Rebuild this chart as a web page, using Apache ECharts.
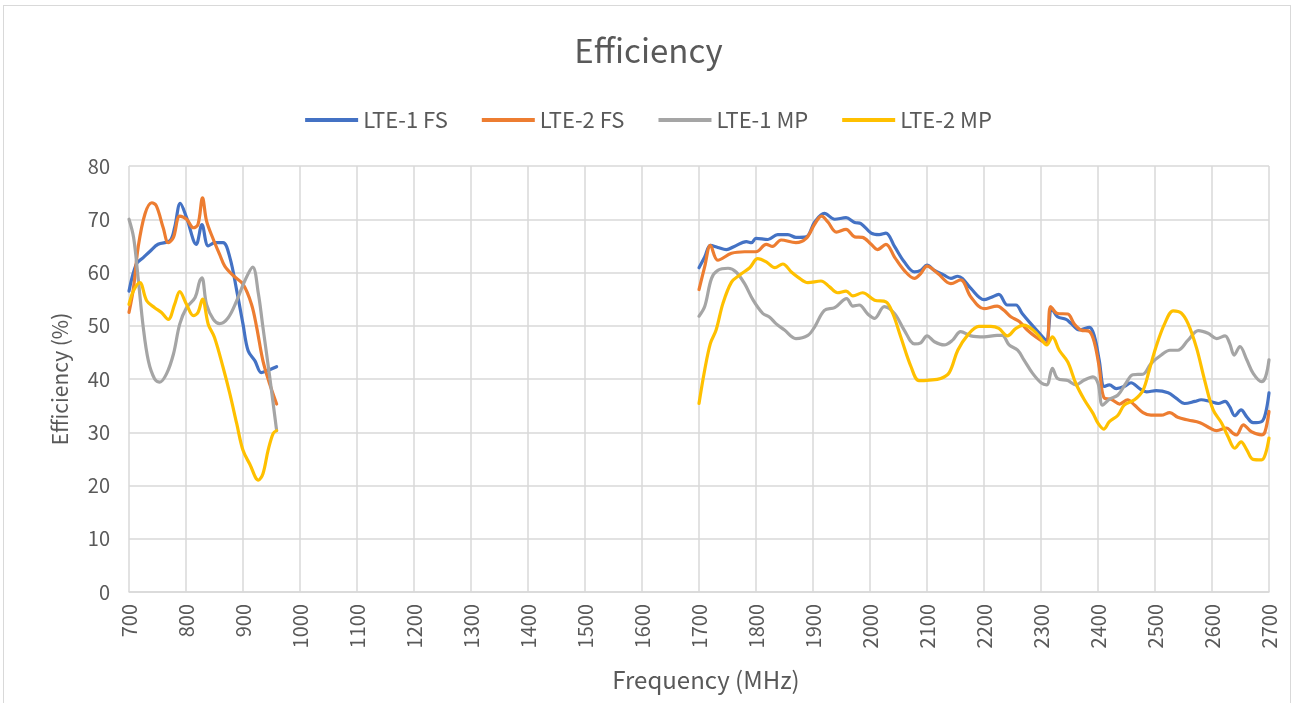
<!DOCTYPE html>
<html><head><meta charset="utf-8">
<script src="https://cdn.jsdelivr.net/npm/echarts@6/dist/echarts.min.js"></script>
<style>
html,body{margin:0;padding:0;background:#fff;}
#frame{position:absolute;left:3px;top:5px;width:1288px;height:710px;border:1px solid #d9d9d9;box-sizing:border-box;}
#c{position:absolute;left:0;top:0;width:1297px;height:703px;}
</style></head>
<body><div id="frame"></div><div id="c"></div>
<script>
const seriesNames = ['LTE-1 FS','LTE-2 FS','LTE-1 MP','LTE-2 MP'];
const seriesColors = ['#4472C4','#ED7D31','#A5A5A5','#FFC000'];

const lte1FS = [[700,56.5],[713,61.6],[725,62.8],[737,64],[751,65.3],[772,66],[780,68.4],[790,73],[801,70.3],[818,65.3],[828,69],[839,65],[851,65.6],[865,65.6],[877,62.8],[889,56.6],[900,50.3],[909,45.3],[921,43.4],[932,41.2],[941,41.5],[959,42.3],
 null,
 [1700,60.9],[1710,62.9],[1720,65.1],[1733,64.7],[1748,64.3],[1762,64.9],[1783,65.8],[1792,65.6],[1800,66.4],[1821,66.2],[1838,67.1],[1856,67.1],[1870,66.6],[1888,66.7],[1903,69.5],[1920,71.1],[1938,70],[1958,70.3],[1973,69.4],[1984,69.2],[2002,67.4],[2016,67.1],[2028,67.4],[2043,64.9],[2060,62],[2078,60.1],[2089,60.4],[2100,61.4],[2113,60.4],[2130,59.5],[2142,58.9],[2154,59.3],[2162,58.9],[2177,57],[2200,54.9],[2212,55.3],[2226,55.9],[2241,53.9],[2256,53.9],[2267,52.3],[2282,50.4],[2297,48.6],[2309,47.3],[2319,53.2],[2329,51.7],[2344,51.2],[2353,50.4],[2367,49.2],[2385,49.7],[2394,47.9],[2402,43.6],[2411,38.6],[2420,38.9],[2432,38.2],[2446,38.6],[2458,39.3],[2473,38.2],[2485,37.6],[2502,37.8],[2523,37.4],[2537,36.4],[2552,35.4],[2570,35.8],[2581,36.1],[2596,35.8],[2611,35.4],[2623,35.8],[2631,34.8],[2640,33.1],[2651,34.2],[2661,32.9],[2672,31.8],[2687,32],[2694,33.6],[2700,37.4]];

const lte2FS = [[700,52.5],[708,57.2],[716,64.7],[728,71],[740,73.1],[748,72.5],[760,68.4],[769,65.6],[778,66.6],[789,70.6],[801,70],[813,68.4],[821,69],[829,74],[836,69.7],[848,66.2],[859,63.4],[868,61.2],[883,59.4],[900,57.8],[915,54],[924,49.7],[935,43.4],[947,39],[959,35.3],
 null,
 [1700,56.8],[1710,61.1],[1720,65.1],[1733,62.3],[1757,63.6],[1780,63.9],[1800,63.9],[1818,65.3],[1829,64.9],[1844,66.1],[1870,65.6],[1888,66.4],[1903,69.1],[1915,70.6],[1926,69.5],[1941,67.6],[1958,68.1],[1973,66.7],[1987,66.6],[2002,65.3],[2013,64.3],[2028,65.3],[2043,62.9],[2060,60.4],[2078,58.9],[2089,59.8],[2100,61.2],[2119,59.8],[2142,57.9],[2159,58.6],[2177,55.4],[2200,53.2],[2223,53.7],[2235,52.9],[2247,51.7],[2262,50.8],[2276,49.2],[2291,47.9],[2309,46.7],[2317,53.6],[2329,52.3],[2347,52.2],[2358,50.4],[2370,49.2],[2385,48.9],[2394,46.7],[2402,42.3],[2411,36.4],[2423,36.2],[2438,35.3],[2452,36.1],[2464,35.1],[2479,33.7],[2493,33.2],[2511,33.2],[2526,33.7],[2540,32.8],[2558,32.3],[2579,31.8],[2596,30.8],[2608,30.3],[2625,30.8],[2637,29.8],[2643,29.5],[2655,31.4],[2669,30.1],[2687,29.5],[2693,30.1],[2700,33.9]];

const lte1MP = [[700,70],[708,66.6],[716,59],[725,49.7],[734,43.4],[745,40],[754,39.4],[766,41],[778,44.7],[789,50.3],[801,53.4],[816,55.3],[824,58.4],[828,59],[836,54],[848,51.2],[859,50.4],[874,51.5],[889,54.7],[903,58.4],[917,61],[927,56],[935,49.7],[947,40.3],[959,30.3],
 null,
 [1700,51.8],[1710,53.6],[1722,58.9],[1733,60.4],[1751,60.8],[1765,60.1],[1780,57.9],[1795,54.8],[1812,52.3],[1824,51.6],[1835,50.4],[1850,49.2],[1870,47.6],[1891,48.2],[1903,49.8],[1920,52.9],[1938,53.4],[1959,55.1],[1970,53.7],[1981,53.9],[1996,52.2],[2008,51.4],[2025,53.6],[2043,52.3],[2060,49.2],[2078,46.6],[2089,46.8],[2100,48.1],[2113,47],[2130,46.4],[2145,47.3],[2159,48.9],[2177,48.1],[2200,47.9],[2223,48.2],[2232,48.2],[2244,46.4],[2259,45.4],[2270,43.6],[2285,41.1],[2300,39.3],[2310,38.9],[2320,42],[2329,40.1],[2347,39.7],[2361,38.9],[2376,39.8],[2391,40.4],[2400,39.2],[2408,35.1],[2420,36.2],[2435,37],[2449,39.2],[2461,40.8],[2479,40.9],[2493,42.9],[2511,44.5],[2526,45.4],[2540,45.4],[2558,47.3],[2576,49.1],[2593,48.6],[2608,47.6],[2623,48.1],[2631,46.7],[2639,44.5],[2649,46.1],[2661,43.6],[2672,41.1],[2687,39.5],[2694,40.4],[2700,43.6]];

const lte2MP = [[700,54],[708,56.6],[719,58.1],[731,54.7],[745,53.4],[757,52.5],[769,51.2],[780,54],[789,56.4],[801,54],[813,51.9],[821,52.5],[829,55],[839,50.3],[850,47.8],[865,42.2],[877,37.2],[889,31.6],[900,26.6],[912,24],[927,21],[935,22.2],[944,26.6],[953,29.8],[959,30.3],
 null,
 [1700,35.4],[1710,41.7],[1720,46.7],[1730,49.2],[1742,54.2],[1757,58.2],[1771,59.5],[1789,60.9],[1803,62.6],[1818,62],[1833,60.9],[1847,61.6],[1862,60.1],[1874,59.1],[1891,58.1],[1914,58.4],[1929,57.3],[1943,56.2],[1958,56.5],[1970,55.6],[1987,56.2],[2008,54.8],[2028,54.5],[2040,52.3],[2054,47.9],[2072,42.3],[2086,39.7],[2104,39.8],[2124,40.1],[2139,41.2],[2154,45.4],[2171,48.2],[2191,49.9],[2212,49.9],[2226,49.5],[2241,48.1],[2256,49.5],[2270,50.1],[2285,49.3],[2300,47.6],[2310,46.4],[2320,47.9],[2332,45.4],[2347,43.2],[2361,39.2],[2376,36.1],[2391,33.6],[2400,31.7],[2410,30.6],[2420,32],[2435,33.2],[2446,35.1],[2464,36.1],[2479,37.9],[2490,41.7],[2502,46.1],[2517,50.4],[2532,52.8],[2546,52.4],[2558,50.4],[2573,45.8],[2587,39.8],[2602,34.2],[2617,31.7],[2628,29.2],[2640,27],[2651,28.2],[2661,26.7],[2672,24.9],[2687,24.8],[2694,26],[2700,28.9]];

const allData = [lte1FS, lte2FS, lte1MP, lte2MP];
const FONT = '"Noto Sans CJK SC", "Noto Sans", sans-serif';
const TXT = '#595959';

const chart = echarts.init(document.getElementById('c'));
chart.setOption({
  animation: false,
  textStyle: {fontFamily: FONT},
  title: {text: 'Efficiency', left: 'center', top: 29,
    textStyle: {fontFamily: FONT, fontSize: 33, fontWeight: 'normal', color: TXT}},
  legend: {top: 104, left: 'center', itemGap: 34, itemWidth: 53, itemHeight: 4, icon: 'rect',
    textStyle: {fontFamily: FONT, fontSize: 22, color: TXT},
    data: seriesNames},
  grid: {left: 129, right: 28, top: 166, bottom: 111},
  xAxis: {type: 'value', min: 700, max: 2700, interval: 100,
    name: 'Frequency (MHz)', nameLocation: 'middle', nameGap: 76,
    nameTextStyle: {fontFamily: FONT, fontSize: 24, color: TXT, padding: [0, 0, 0, 14]},
    axisLine: {lineStyle: {color: '#d9d9d9', width: 1.5}},
    axisTick: {show: false},
    axisLabel: {rotate: 90, fontFamily: FONT, fontSize: 20, color: TXT, margin: 12,
      formatter: v => String(v)},
    splitLine: {show: true, lineStyle: {color: '#d9d9d9', width: 1.5}}},
  yAxis: {type: 'value', min: 0, max: 80, interval: 10,
    name: 'Efficiency (%)', nameLocation: 'middle', nameGap: 58,
    nameTextStyle: {fontFamily: FONT, fontSize: 21, color: TXT},
    axisLine: {show: false}, axisTick: {show: false},
    axisLabel: {fontFamily: FONT, fontSize: 20, color: TXT, margin: 19},
    splitLine: {lineStyle: {color: '#d9d9d9', width: 1.5}}},
  series: seriesNames.map((n, i) => ({
    name: n, type: 'line', data: allData[i], smooth: 0.35, showSymbol: false,
    connectNulls: false, color: seriesColors[i],
    lineStyle: {width: 3.2, color: seriesColors[i], cap: 'round', join: 'round'}
  }))
});
</script></body></html>
